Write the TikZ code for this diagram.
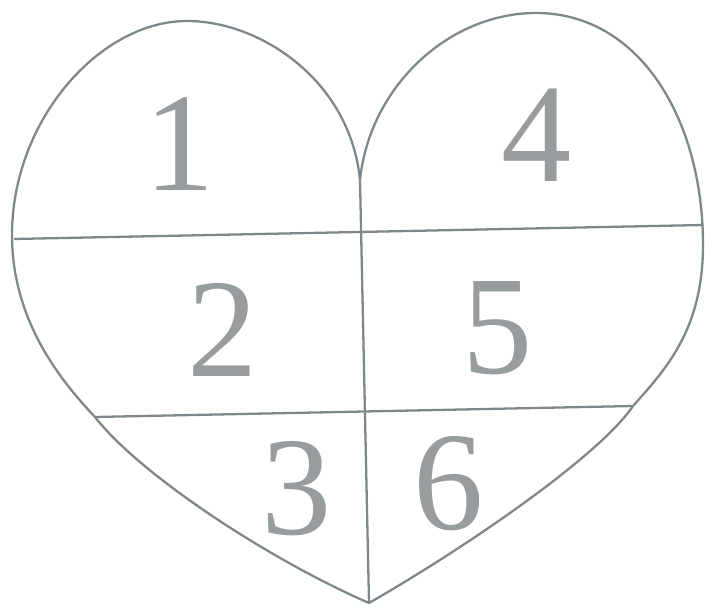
\documentclass[tikz,border=0pt]{standalone}
\usepackage{fontspec}
\setmainfont{Liberation Serif}
\usepackage{tikz}
\definecolor{ink}{HTML}{7E878B}
\definecolor{digit}{HTML}{979C9E}

\begin{document}
\begin{tikzpicture}[
  x=0.02cm, y=-0.02cm,
  edge/.style={draw=ink,line width=1.3pt,line join=round},
  cut/.style={draw=ink,line width=1.3pt},
  num/.style={font=\fontsize{80}{80}\selectfont,text=digit,inner sep=0pt},
]
\useasboundingbox (0,0) rectangle (706,607);

\coordinate (cusp) at (360,180);
\coordinate (tip) at (369,603);
\coordinate (topL) at (187,21);
\coordinate (topR) at (536,13);
\coordinate (leftX) at (12,235);
\coordinate (rightX) at (703,245);
\coordinate (L1) at (14,239);
\coordinate (R1) at (703,225);
\coordinate (L2) at (95,417);
\coordinate (R2) at (633,406);

% outline
\draw[edge] (cusp) .. controls (350,80) and (260,21) .. (topL)
  .. controls (100,21) and (12,120) .. (leftX)
  .. controls (12,320) and (60,380) .. (L2)
  .. controls (140,475) and (270,560) .. (tip)
  .. controls (470,545) and (600,455) .. (R2)
  .. controls (665,370) and (703,330) .. (rightX)
  .. controls (703,120) and (640,13) .. (topR)
  .. controls (450,13) and (370,85) .. (cusp);

% cuts
\draw[cut] (L1) -- (R1);
\draw[cut] (L2) -- (R2);
\draw[cut] (cusp) -- (tip);

\node[num] (n1) at (180,144) {1};
\node[num] (n2) at (223,330) {2};
\node[num] (n3) at (297,489) {3};
\node[num] (n4) at (537,135) {4};
\node[num] (n5) at (498,328) {5};
\node[num] (n6) at (449,484) {6};
\end{tikzpicture}
\end{document}
